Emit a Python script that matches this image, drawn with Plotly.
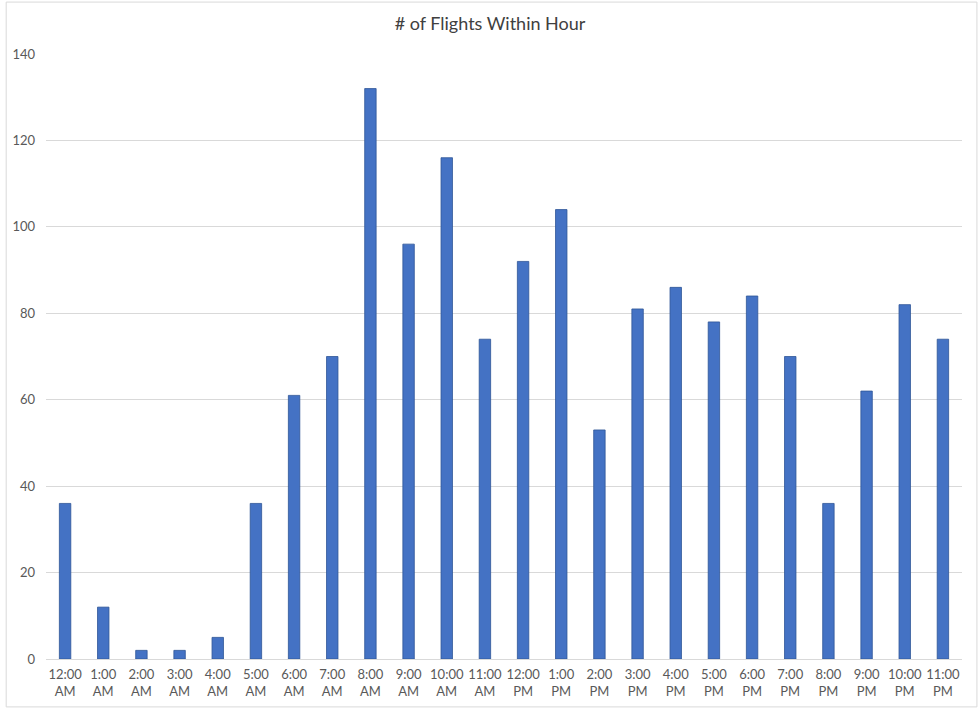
import plotly.graph_objects as go

hours = ["12:00<br>AM", "1:00<br>AM", "2:00<br>AM", "3:00<br>AM", "4:00<br>AM", "5:00<br>AM",
         "6:00<br>AM", "7:00<br>AM", "8:00<br>AM", "9:00<br>AM", "10:00<br>AM", "11:00<br>AM",
         "12:00<br>PM", "1:00<br>PM", "2:00<br>PM", "3:00<br>PM", "4:00<br>PM", "5:00<br>PM",
         "6:00<br>PM", "7:00<br>PM", "8:00<br>PM", "9:00<br>PM", "10:00<br>PM", "11:00<br>PM"]
flights = [36, 12, 2, 2, 5, 36, 61, 70, 132, 96, 116, 74,
           92, 104, 53, 81, 86, 78, 84, 70, 36, 62, 82, 74]
y_ticks = [0, 20, 40, 60, 80, 100, 120, 140]

fig = go.Figure(go.Bar(
    x=hours, y=flights,
    marker=dict(color="#4472C4", line=dict(color="#2F5597", width=0.8)),
))

fig.update_layout(
    width=980, height=711,
    margin=dict(l=42, r=18, t=54, b=51),
    paper_bgcolor="white", plot_bgcolor="white",
    font=dict(family="Lato, 'Open Sans', sans-serif", size=13, color="#595959"),
    title=dict(text="# of Flights Within Hour", x=0.5, xanchor="center",
               y=1 - 24 / 711, yanchor="middle",
               font=dict(size=18, color="#404040")),
    bargap=0.7,
    showlegend=False,
    xaxis=dict(showgrid=False, showline=True, linecolor="#D9D9D9", linewidth=1,
               ticks="", ticklabelstandoff=3, tickfont=dict(size=13, color="#595959")),
    yaxis=dict(range=[0, 140], tickvals=y_ticks, showgrid=True, gridcolor="#D9D9D9",
               gridwidth=1, zeroline=False, showline=False, ticks="",
               ticklabelstandoff=10, tickfont=dict(size=13, color="#595959")),
    shapes=[dict(type="rect", xref="paper", yref="paper",
                 x0=(2 - 42) / 920, x1=(977 - 42) / 920,
                 y0=(660 - 708) / 606, y1=(660 - 2) / 606,
                 line=dict(color="#D9D9D9", width=1), fillcolor="rgba(0,0,0,0)", layer="below")],
)

fig.write_html("out.html", config={"displayModeBar": False},
               post_script="document.body.style.margin='0';document.body.style.overflow='hidden';")
